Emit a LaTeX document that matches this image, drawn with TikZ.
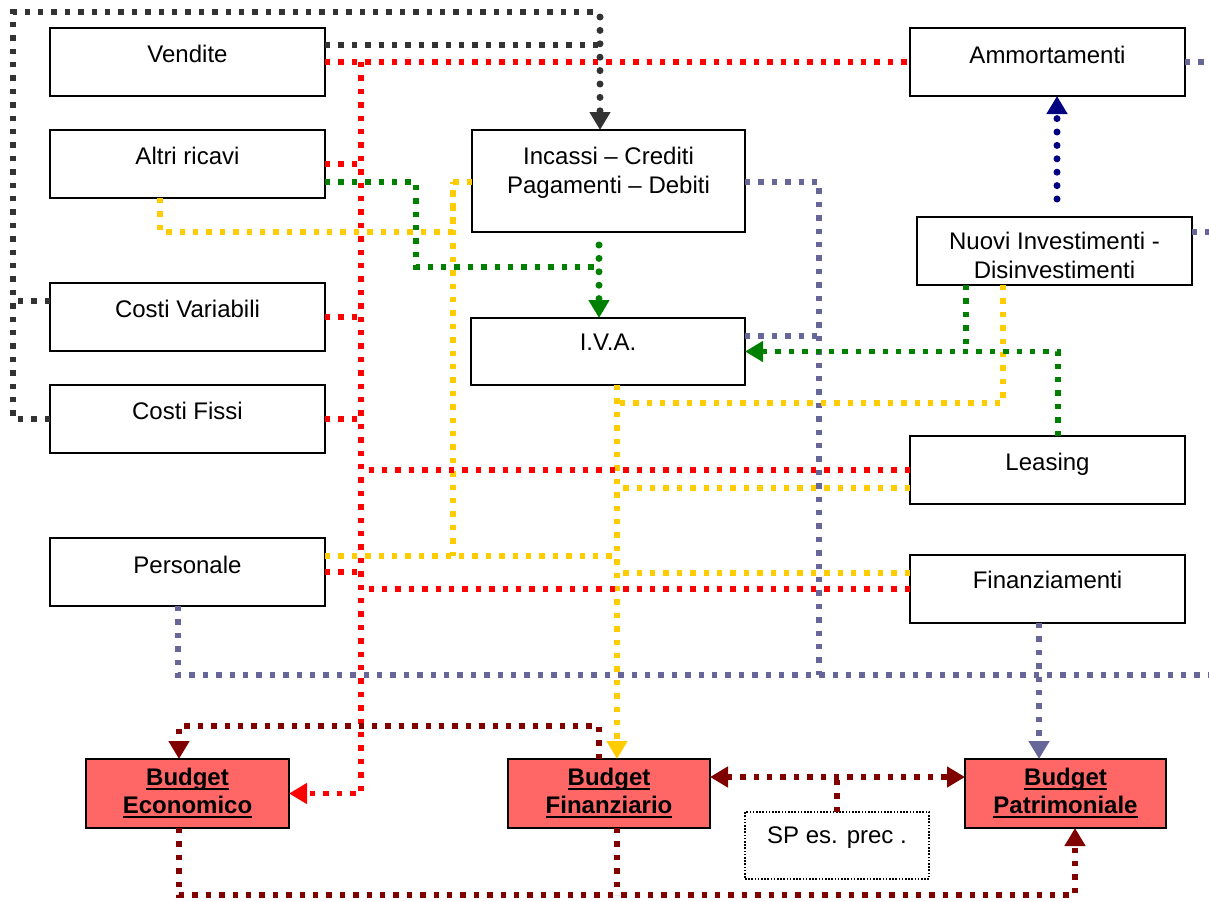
\documentclass[tikz,border=0pt]{standalone}
\usepackage{fontspec}
\setmainfont{Liberation Sans}
\usetikzlibrary{arrows.meta}

\definecolor{cred}{HTML}{FF0000}
\definecolor{cgreen}{HTML}{008000}
\definecolor{cyellow}{HTML}{FFCC00}
\definecolor{cslate}{HTML}{666699}
\definecolor{cnavy}{HTML}{000080}
\definecolor{cmaroon}{HTML}{800000}
\definecolor{cdark}{HTML}{333333}
\definecolor{budfill}{HTML}{FF6666}

% box content: width, height, first-baseline depth, text
\newcommand\boxtxt[4]{\parbox[c][#2pt][t]{#1pt}{\centering\rule{0pt}{#3pt}#4}}
% thick underline
\newcommand\ubt[1]{\leavevmode\setbox0\hbox{#1}\rlap{\rule[-5pt]{\wd0}{2pt}}\box0}

\begin{document}
\begin{tikzpicture}[x=1pt,y=-1pt,
  font={\fontsize{24}{29}\selectfont},
  box/.style={draw=black, line width=2.2pt, fill=white, inner sep=0pt, outer sep=0pt, anchor=north west},
  budget/.style={box, fill=budfill},
  prior/.style={draw=black, line width=1.6pt, dash pattern=on 1.6pt off 1.6pt, fill=white, inner sep=0pt, outer sep=0pt, anchor=north west},
  sq/.style={line width=5.4pt, dash pattern=on 5.4pt off 8pt},
  rd/.style={line width=7pt, line cap=round, dash pattern=on 0pt off 13.4pt},
  tip/.style={-{Triangle[length=18pt,width=20pt]}},
  tips/.style={{Triangle[length=18pt,width=20pt]}-{Triangle[length=18pt,width=20pt]}},
]
\useasboundingbox (0,0) rectangle (1209,900);

% ---------- boxes ----------
\node[box] (vend)  at (50,28)   {\boxtxt{275}{68}{34}{Vendite}};
\node[box] (altri) at (50,130)  {\boxtxt{275}{68}{34}{Altri ricavi}};
\node[box] (cvar)  at (50,283)  {\boxtxt{275}{68}{34}{Costi Variabili}};
\node[box] (cfis)  at (50,385)  {\boxtxt{275}{68}{34}{Costi Fissi}};
\node[box] (pers)  at (50,538)  {\boxtxt{275}{68}{35}{Personale}};
\node[box] (inc)   at (472,130) {\boxtxt{273}{102}{34}{Incassi – Crediti\\Pagamenti – Debiti}};
\node[box] (iva)   at (471,318) {\boxtxt{274}{67}{32}{I.V.A.}};
\node[box] (amm)   at (910,28)  {\boxtxt{275}{68}{35}{Ammortamenti}};
\node[box] (nuovi) at (917,217) {\boxtxt{275}{68}{32}{Nuovi Investimenti -\\Disinvestimenti}};
\node[box] (leas)  at (910,436) {\boxtxt{275}{68}{34}{Leasing}};
\node[box] (fin)   at (910,555) {\boxtxt{275}{68}{33}{Finanziamenti}};
\node[budget] (beco) at (86,759)  {\boxtxt{203}{69}{26}{\fontsize{24}{28}\selectfont\bfseries\ubt{Budget}\\\ubt{Economico}}};
\node[budget] (bfin) at (508,759) {\boxtxt{202}{69}{26}{\fontsize{24}{28}\selectfont\bfseries\ubt{Budget}\\\ubt{Finanziario}}};
\node[budget] (bpat) at (965,759) {\boxtxt{201}{69}{26}{\fontsize{24}{28}\selectfont\bfseries\ubt{Budget}\\\ubt{Patrimoniale}}};
\node[prior] (sp) at (745,812) {\boxtxt{184}{67}{31}{SP es. prec .}};

% ---------- junction and edge points ----------
\coordinate (gl)    at (13,12);
\coordinate (gt)    at (600,12);
\coordinate (rtop)  at (361,62);
\coordinate (gk)    at (416,267);
\coordinate (gj)    at (599,267);
\coordinate (yv)    at (453,182);
\coordinate (yk)    at (453,232);
\coordinate (yr)    at (617,403);
\coordinate (bb)    at (819,675);
\coordinate (bedge) at (1209,675);
\coordinate (aedge) at (1209,62);
\coordinate (nedge) at (1209,232);
\coordinate (dtop)  at (179,726);
\coordinate (dbot)  at (1075,895);

% attachment points on the boxes
\coordinate (cvarL)  at ([shift={(0,18)}]cvar.north west);
\coordinate (vendG)  at ([shift={(0,17)}]vend.north east);
\coordinate (altriG) at ([shift={(0,52)}]altri.north east);
\coordinate (altriY) at ([shift={(110,0)}]altri.south west);
\coordinate (incB)   at ([shift={(127,0)}]inc.south west);
\coordinate (incY)   at ([shift={(0,52)}]inc.north west);
\coordinate (incS)   at ([shift={(0,52)}]inc.north east);
\coordinate (ivaY)   at ([shift={(146,0)}]iva.south west);
\coordinate (ivaS)   at ([shift={(0,18)}]iva.north east);
\coordinate (persY)  at ([shift={(0,18)}]pers.north east);
\coordinate (persB)  at ([shift={(128,0)}]pers.south west);
\coordinate (nuoviG) at ([shift={(49,0)}]nuovi.south west);
\coordinate (nuoviY) at ([shift={(86,0)}]nuovi.south west);
\coordinate (nuoviN) at ([shift={(140,0)}]nuovi.north west);
\coordinate (nuoviS) at ([shift={(0,15)}]nuovi.north east);
\coordinate (leasG)  at ([shift={(148,0)}]leas.north west);
\coordinate (leasY)  at ([shift={(0,52)}]leas.north west);
\coordinate (finY)   at ([shift={(0,18)}]fin.north west);
\coordinate (finB)   at ([shift={(129,0)}]fin.south west);
\coordinate (bfinD)  at ([shift={(91,0)}]bfin.north west);
\coordinate (bfinR)  at ([shift={(0,18)}]bfin.north east);
\coordinate (bpatL)  at ([shift={(0,18)}]bpat.north west);
\coordinate (becoD)  at ([shift={(93,0)}]beco.south west);
\coordinate (bfinS)  at ([shift={(109,0)}]bfin.south west);
\coordinate (bpatS)  at ([shift={(110,0)}]bpat.south west);

% ---------- slate lines ----------
\begin{scope}[cslate]
\draw[sq] (incS) -| (bb);
\draw[sq] (ivaS) -- (ivaS -| bb);
\draw[sq] (persB) |- (bedge);
\draw[sq,tip] (finB) -- (finB |- bpat.north);
\draw[sq] (amm.east) -- (aedge);
\draw[sq] (nuoviS) -- (nedge);
\end{scope}

% ---------- yellow lines ----------
\begin{scope}[cyellow]
\draw[sq] (altriY) |- (yk) -- (yv);
\draw[sq] (incY) -| (yv |- persY);
\draw[sq] (persY) -- (persY -| ivaY);
\draw[sq,tip] (ivaY) -- (ivaY |- bfin.north);
\draw[sq] (nuoviY) |- (yr);
\draw[sq] (leasY) -- (leasY -| ivaY);
\draw[sq] (finY) -- (finY -| ivaY);
\end{scope}

% ---------- green lines ----------
\begin{scope}[cgreen]
\draw[sq] (altriG) -| (gk) -- (gj);
\draw[rd,tip,shorten <=13pt] (incB) -- (incB |- iva.north);
\draw[sq,tip] (leasG) |- (iva.east);
\draw[sq] (nuoviG) -- (nuoviG |- iva.east);
\end{scope}

% ---------- red lines ----------
\begin{scope}[cred]
\draw[sq] (vend.east) -- (amm.west);
\draw[sq,tip] (rtop) |- (beco.east);
\draw[sq] (altri.east) -- (altri.east -| rtop);
\draw[sq] (cvar.east) -- (cvar.east -| rtop);
\draw[sq] (cfis.east) -- (cfis.east -| rtop);
\draw[sq] (pers.east) -- (pers.east -| rtop);
\draw[sq] (leas.west) -- (leas.west -| rtop);
\draw[sq] (fin.west) -- (fin.west -| rtop);
\end{scope}

% ---------- dark grey lines ----------
\begin{scope}[cdark]
\draw[sq] (cfis.west) -| (gl) -- (gt);
\draw[sq] (cvarL) -- (cvarL -| gl);
\draw[sq] (vendG) -- (vendG -| gt);
\draw[rd,tip,shorten <=5pt] (gt) -- (gt |- inc.north);
\end{scope}

% ---------- navy line ----------
\draw[cnavy,rd,tip,shorten <=18pt] (nuoviN) -- (nuoviN |- amm.south);

% ---------- maroon lines ----------
\begin{scope}[cmaroon]
\draw[sq,tip] (bfinD) |- (dtop) -- (dtop |- beco.north);
\draw[sq,tips] (bfinR) -- (bpatL);
\draw[sq] (sp.north) -- (sp.north |- bfinR);
\draw[sq,tip] (becoD) |- (dbot) -- (bpatS);
\draw[sq] (bfinS) -- (bfinS |- dbot);
\end{scope}
\end{tikzpicture}
\end{document}
